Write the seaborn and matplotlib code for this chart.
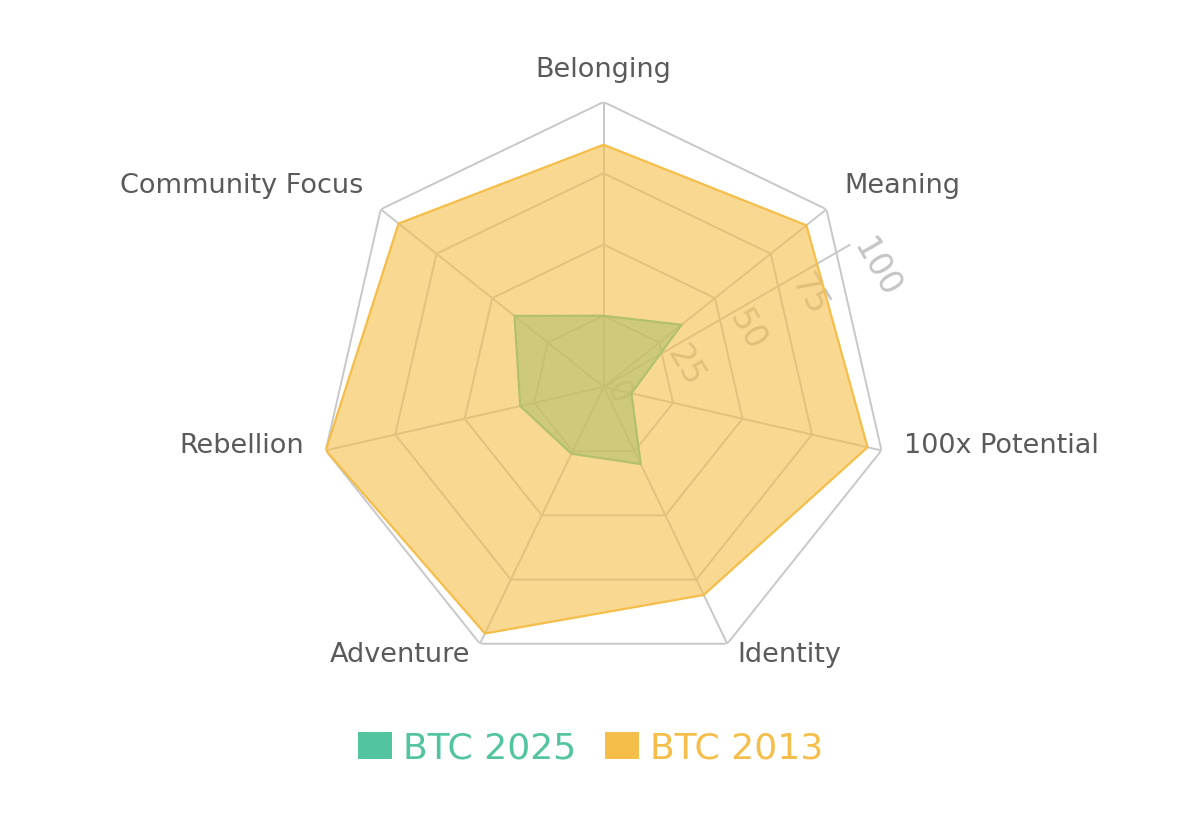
import numpy as np
import seaborn as sns
import matplotlib
matplotlib.use("Agg")
import matplotlib.pyplot as plt
from matplotlib.patches import Patch
from matplotlib.transforms import offset_copy

# ---------------- DATA ------------------
categories = ["Belonging", "Meaning", "100x Potential", "Identity",
              "Adventure", "Rebellion", "Community Focus"]
btc_2025 = [25, 35, 10, 30, 26, 30, 40]
btc_2013 = [85, 91, 95, 81, 96, 100, 92]
series_names = ["BTC 2025", "BTC 2013"]
radial_ticks = [0, 25, 50, 75, 100]

# ---------------- STYLE ------------------
sns.set_theme(style="white")
plt.rcParams["font.family"] = ["DejaVu Sans"]
GREEN = "#52c4a0"
YELLOW = "#f5be4a"
GRID = "#c8c8c8"
LABEL = "#5a5a5a"
TICKLBL = "#c4c4c4"

n = len(categories)
angles = np.arange(n) * 2 * np.pi / n
closed = np.append(angles, angles[0])

fig = plt.figure(figsize=(12, 8.13), dpi=100)
ax = fig.add_axes([0.503 - 0.2375, 0.524 - 0.3506, 0.475, 0.7012], projection="polar")
ax.set_theta_offset(np.pi / 2)
ax.set_theta_direction(-1)
ax.set_ylim(0, 100)
ax.set_xticks([])
ax.set_yticks([])
ax.grid(False)
ax.spines["polar"].set_visible(False)
ax.set_facecolor("none")

# polygon grid
for r in radial_ticks[1:]:
    ax.plot(closed, [r] * (n + 1), color=GRID, lw=1.4, zorder=0)
for a in angles:
    ax.plot([a, a], [0, 100], color=GRID, lw=1.4, zorder=0)

# radial axis at 60 deg clockwise from north
raxis = np.deg2rad(60)
ax.plot([raxis, raxis], [0, 100], color=GRID, lw=1.4, zorder=1)
for t in radial_ticks:
    tr = offset_copy(ax.transData, fig=fig, x=10, y=3, units="dots")
    ax.text(raxis, t, str(t), rotation=-60, rotation_mode="anchor",
            ha="left", va="center", fontsize=23.5, color=TICKLBL,
            transform=tr, zorder=1)

# series
for vals, col, z in [(btc_2025, GREEN, 2), (btc_2013, YELLOW, 3)]:
    v = np.append(vals, vals[0])
    ax.fill(closed, v, color=col, alpha=0.6, lw=0, zorder=z)
    ax.plot(closed, v, color=col, lw=1.6, zorder=z)

# category labels
lbl_tr = offset_copy(ax.transData, fig=fig, x=0, y=9, units="dots")
for a, name in zip(angles, categories):
    s = np.sin(a)
    ha = "left" if s > 0.1 else ("right" if s < -0.1 else "center")
    ax.text(a, 108, name, ha=ha, va="center", fontsize=19.5, color=LABEL,
            transform=lbl_tr)

handles = [Patch(facecolor=GREEN, edgecolor="none"),
           Patch(facecolor=YELLOW, edgecolor="none")]
fig.legend(handles, series_names, loc="center", bbox_to_anchor=(0.492, 1 - 748 / 813),
           ncol=2, frameon=False, fontsize=26, labelcolor=[GREEN, YELLOW],
           handlelength=0.95, handleheight=0.75, handletextpad=0.3,
           columnspacing=0.8)

fig.savefig("out.png", dpi=100, facecolor="white")
